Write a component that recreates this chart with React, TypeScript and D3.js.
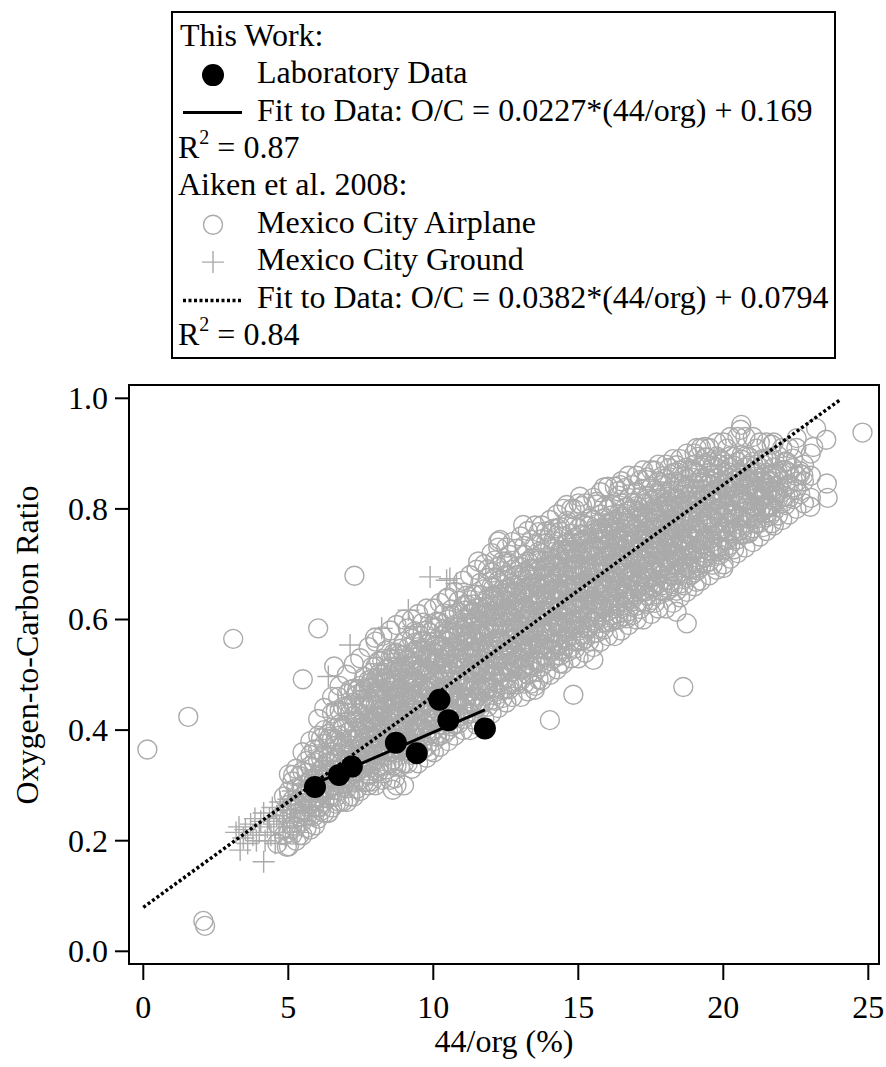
import React from 'react';
import * as d3 from 'd3';

// Aiken et al. 2008 - Mexico City Airplane, read column by column (x, list of O/C)
const airplaneColumns: [number, number[]][] = [
  [4.62, [0.195, 0.23]],
  [4.85, [0.21, 0.25, 0.28]],
  [5.02, [0.19, 0.215, 0.24, 0.265, 0.29, 0.32]],
  [5.27, [0.2, 0.225, 0.25, 0.27, 0.295, 0.33]],
  [5.49, [0.21, 0.235, 0.255, 0.28, 0.3, 0.325, 0.36]],
  [5.76, [0.22, 0.245, 0.265, 0.29, 0.31, 0.335, 0.355, 0.38]],
  [6.03, [0.24, 0.26, 0.28, 0.3, 0.32, 0.345, 0.365, 0.39, 0.42]],
  [6.24, [0.25, 0.27, 0.29, 0.31, 0.335, 0.355, 0.375, 0.4, 0.44]],
  [6.51, [0.26, 0.28, 0.3, 0.32, 0.34, 0.36, 0.385, 0.405, 0.43, 0.46]],
  [6.77, [0.27, 0.29, 0.31, 0.33, 0.35, 0.37, 0.39, 0.41, 0.435, 0.48]],
  [7.02, [0.27, 0.295, 0.315, 0.335, 0.355, 0.375, 0.395, 0.415, 0.44, 0.465, 0.5]],
  [7.26, [0.28, 0.305, 0.325, 0.345, 0.365, 0.385, 0.405, 0.425, 0.45, 0.475, 0.52]],
  [7.48, [0.29, 0.31, 0.33, 0.35, 0.37, 0.39, 0.41, 0.43, 0.455, 0.48, 0.53]],
  [7.77, [0.3, 0.32, 0.34, 0.36, 0.38, 0.4, 0.42, 0.44, 0.46, 0.49, 0.55]],
  [8.01, [0.3, 0.325, 0.345, 0.365, 0.385, 0.405, 0.425, 0.445, 0.465, 0.49, 0.515, 0.56]],
  [8.24, [0.31, 0.335, 0.355, 0.375, 0.395, 0.415, 0.435, 0.455, 0.475, 0.5, 0.525, 0.57]],
  [8.52, [0.31, 0.34, 0.36, 0.38, 0.4, 0.42, 0.44, 0.46, 0.48, 0.5, 0.53, 0.58]],
  [8.73, [0.3, 0.335, 0.36, 0.385, 0.405, 0.425, 0.445, 0.465, 0.485, 0.51, 0.54, 0.59]],
  [8.99, [0.3, 0.34, 0.37, 0.39, 0.41, 0.43, 0.45, 0.47, 0.49, 0.51, 0.535, 0.56, 0.6]],
  [9.26, [0.33, 0.355, 0.375, 0.395, 0.415, 0.435, 0.455, 0.475, 0.495, 0.515, 0.54, 0.565, 0.6]],
  [9.48, [0.34, 0.365, 0.385, 0.405, 0.425, 0.445, 0.465, 0.485, 0.505, 0.525, 0.55, 0.575, 0.61]],
  [9.77, [0.35, 0.37, 0.39, 0.41, 0.43, 0.45, 0.47, 0.49, 0.51, 0.53, 0.555, 0.58, 0.62]],
  [10.02, [0.36, 0.38, 0.4, 0.42, 0.44, 0.46, 0.48, 0.5, 0.52, 0.54, 0.56, 0.585, 0.62]],
  [10.23, [0.37, 0.39, 0.41, 0.43, 0.45, 0.47, 0.49, 0.51, 0.53, 0.55, 0.57, 0.595, 0.63]],
  [10.51, [0.38, 0.4, 0.42, 0.44, 0.46, 0.48, 0.5, 0.52, 0.54, 0.56, 0.58, 0.6, 0.64]],
  [10.74, [0.39, 0.41, 0.43, 0.45, 0.47, 0.49, 0.51, 0.53, 0.55, 0.57, 0.59, 0.61, 0.65]],
  [11.03, [0.4, 0.42, 0.44, 0.46, 0.48, 0.5, 0.52, 0.54, 0.56, 0.58, 0.6, 0.625, 0.67]],
  [11.27, [0.4, 0.43, 0.45, 0.47, 0.49, 0.51, 0.53, 0.55, 0.57, 0.59, 0.61, 0.635, 0.68]],
  [11.49, [0.41, 0.44, 0.46, 0.48, 0.5, 0.52, 0.54, 0.56, 0.58, 0.6, 0.62, 0.645, 0.69]],
  [11.76, [0.42, 0.45, 0.47, 0.49, 0.51, 0.53, 0.55, 0.57, 0.59, 0.61, 0.63, 0.655, 0.7]],
  [12.01, [0.43, 0.455, 0.475, 0.495, 0.515, 0.535, 0.555, 0.575, 0.595, 0.615, 0.635, 0.66, 0.685, 0.72]],
  [12.24, [0.44, 0.465, 0.485, 0.505, 0.525, 0.545, 0.565, 0.585, 0.605, 0.625, 0.645, 0.67, 0.695, 0.73]],
  [12.52, [0.45, 0.475, 0.495, 0.515, 0.535, 0.555, 0.575, 0.595, 0.615, 0.635, 0.655, 0.68, 0.705, 0.73]],
  [12.73, [0.46, 0.485, 0.505, 0.525, 0.545, 0.565, 0.585, 0.605, 0.625, 0.645, 0.665, 0.69, 0.74]],
  [13.02, [0.46, 0.49, 0.51, 0.53, 0.55, 0.57, 0.59, 0.61, 0.63, 0.65, 0.67, 0.695, 0.75]],
  [13.26, [0.47, 0.5, 0.52, 0.54, 0.56, 0.58, 0.6, 0.62, 0.64, 0.66, 0.68, 0.705, 0.76]],
  [13.51, [0.48, 0.505, 0.525, 0.545, 0.565, 0.585, 0.605, 0.625, 0.645, 0.665, 0.685, 0.71, 0.735, 0.77]],
  [13.74, [0.49, 0.515, 0.535, 0.555, 0.575, 0.595, 0.615, 0.635, 0.655, 0.675, 0.695, 0.72, 0.745, 0.77]],
  [14.03, [0.5, 0.525, 0.545, 0.565, 0.585, 0.605, 0.625, 0.645, 0.665, 0.685, 0.705, 0.73, 0.755, 0.78]],
  [14.27, [0.51, 0.535, 0.555, 0.575, 0.595, 0.615, 0.635, 0.655, 0.675, 0.695, 0.715, 0.74, 0.765, 0.79]],
  [14.48, [0.52, 0.545, 0.565, 0.585, 0.605, 0.625, 0.645, 0.665, 0.685, 0.705, 0.725, 0.75, 0.8]],
  [14.76, [0.53, 0.55, 0.57, 0.59, 0.61, 0.63, 0.65, 0.67, 0.69, 0.71, 0.73, 0.755, 0.8]],
  [15.01, [0.53, 0.56, 0.58, 0.6, 0.62, 0.64, 0.66, 0.68, 0.7, 0.72, 0.74, 0.765, 0.81]],
  [15.24, [0.54, 0.565, 0.585, 0.605, 0.625, 0.645, 0.665, 0.685, 0.705, 0.725, 0.745, 0.77, 0.81]],
  [15.52, [0.55, 0.575, 0.595, 0.615, 0.635, 0.655, 0.675, 0.695, 0.715, 0.735, 0.755, 0.78, 0.82]],
  [15.77, [0.56, 0.585, 0.605, 0.625, 0.645, 0.665, 0.685, 0.705, 0.725, 0.745, 0.765, 0.79, 0.83]],
  [16.02, [0.57, 0.595, 0.615, 0.635, 0.655, 0.675, 0.695, 0.715, 0.735, 0.755, 0.775, 0.8, 0.84]],
  [16.26, [0.57, 0.6, 0.62, 0.64, 0.66, 0.68, 0.7, 0.72, 0.74, 0.76, 0.78, 0.805, 0.84]],
  [16.49, [0.58, 0.605, 0.625, 0.645, 0.665, 0.685, 0.705, 0.725, 0.745, 0.765, 0.785, 0.81, 0.85]],
  [16.73, [0.59, 0.615, 0.635, 0.655, 0.675, 0.695, 0.715, 0.735, 0.755, 0.775, 0.795, 0.82, 0.86]],
  [17.01, [0.6, 0.625, 0.645, 0.665, 0.685, 0.705, 0.725, 0.745, 0.765, 0.785, 0.805, 0.83, 0.86]],
  [17.24, [0.6, 0.63, 0.65, 0.67, 0.69, 0.71, 0.73, 0.75, 0.77, 0.79, 0.81, 0.835, 0.87]],
  [17.52, [0.61, 0.635, 0.655, 0.675, 0.695, 0.715, 0.735, 0.755, 0.775, 0.795, 0.815, 0.84, 0.87]],
  [17.76, [0.62, 0.645, 0.665, 0.685, 0.705, 0.725, 0.745, 0.765, 0.785, 0.805, 0.825, 0.85, 0.88]],
  [18.02, [0.62, 0.65, 0.67, 0.69, 0.71, 0.73, 0.75, 0.77, 0.79, 0.81, 0.83, 0.855, 0.88]],
  [18.27, [0.63, 0.66, 0.68, 0.7, 0.72, 0.74, 0.76, 0.78, 0.8, 0.82, 0.84, 0.865, 0.89]],
  [18.51, [0.64, 0.665, 0.685, 0.705, 0.725, 0.745, 0.765, 0.785, 0.805, 0.825, 0.845, 0.87, 0.89]],
  [18.74, [0.65, 0.675, 0.695, 0.715, 0.735, 0.755, 0.775, 0.795, 0.815, 0.835, 0.855, 0.875, 0.9]],
  [19.01, [0.66, 0.685, 0.705, 0.725, 0.745, 0.765, 0.785, 0.805, 0.825, 0.845, 0.865, 0.88, 0.9]],
  [19.23, [0.67, 0.695, 0.715, 0.735, 0.755, 0.775, 0.795, 0.815, 0.835, 0.855, 0.875, 0.91]],
  [19.52, [0.68, 0.705, 0.725, 0.745, 0.765, 0.785, 0.805, 0.825, 0.845, 0.865, 0.885, 0.91]],
  [19.77, [0.69, 0.715, 0.735, 0.755, 0.775, 0.795, 0.815, 0.835, 0.855, 0.875, 0.895, 0.92]],
  [20.01, [0.7, 0.725, 0.745, 0.765, 0.785, 0.805, 0.825, 0.845, 0.865, 0.885, 0.92]],
  [20.24, [0.71, 0.735, 0.755, 0.775, 0.795, 0.815, 0.835, 0.855, 0.875, 0.895, 0.93]],
  [20.49, [0.72, 0.745, 0.765, 0.785, 0.805, 0.825, 0.845, 0.865, 0.885, 0.93]],
  [20.76, [0.73, 0.755, 0.775, 0.795, 0.815, 0.835, 0.855, 0.875, 0.895, 0.93]],
  [21.02, [0.74, 0.765, 0.785, 0.805, 0.825, 0.845, 0.865, 0.885, 0.93]],
  [21.26, [0.75, 0.775, 0.795, 0.815, 0.835, 0.855, 0.875, 0.92]],
  [21.49, [0.76, 0.785, 0.805, 0.825, 0.845, 0.865, 0.89, 0.92]],
  [21.74, [0.77, 0.795, 0.815, 0.835, 0.855, 0.875, 0.92]],
  [22.03, [0.78, 0.81, 0.83, 0.85, 0.87, 0.91]],
  [22.27, [0.79, 0.82, 0.845, 0.865, 0.91]],
  [22.52, [0.8, 0.835, 0.86, 0.91]],
  [22.78, [0.81, 0.85, 0.88]],
  [23.02, [0.82, 0.86, 0.9]],
];

// the dense middle of the airplane band, read between the columns above
const airplaneCore: [number, number[]][] = [
  [5.14, [0.211, 0.227, 0.263, 0.273, 0.307]],
  [5.38, [0.21, 0.244, 0.252, 0.286, 0.317]],
  [5.63, [0.223, 0.244, 0.275, 0.291, 0.323, 0.344]],
  [5.89, [0.244, 0.261, 0.272, 0.308, 0.313, 0.342, 0.365]],
  [6.13, [0.254, 0.262, 0.291, 0.317, 0.328, 0.349, 0.385]],
  [6.38, [0.251, 0.278, 0.294, 0.324, 0.341, 0.352, 0.383, 0.393]],
  [6.64, [0.267, 0.28, 0.309, 0.317, 0.346, 0.372, 0.383, 0.404, 0.435]],
  [6.89, [0.271, 0.298, 0.314, 0.344, 0.361, 0.372, 0.403, 0.408, 0.442]],
  [7.14, [0.28, 0.309, 0.317, 0.346, 0.372, 0.383, 0.399, 0.43, 0.446, 0.473]],
  [7.37, [0.294, 0.324, 0.341, 0.352, 0.383, 0.388, 0.417, 0.43, 0.464, 0.472]],
  [7.62, [0.306, 0.332, 0.343, 0.359, 0.39, 0.401, 0.428, 0.444, 0.474, 0.496]],
  [7.89, [0.307, 0.338, 0.343, 0.372, 0.385, 0.414, 0.422, 0.451, 0.477, 0.493, 0.514]],
  [8.13, [0.325, 0.336, 0.363, 0.379, 0.409, 0.426, 0.437, 0.468, 0.473, 0.502, 0.525]],
  [8.38, [0.329, 0.337, 0.366, 0.392, 0.403, 0.419, 0.45, 0.461, 0.488, 0.509, 0.544]],
  [8.62, [0.336, 0.347, 0.378, 0.383, 0.412, 0.425, 0.454, 0.462, 0.491, 0.522, 0.538]],
  [8.86, [0.334, 0.365, 0.376, 0.403, 0.419, 0.449, 0.466, 0.477, 0.508, 0.513, 0.547]],
  [9.12, [0.34, 0.369, 0.377, 0.406, 0.432, 0.443, 0.459, 0.49, 0.501, 0.528, 0.549, 0.584]],
  [9.37, [0.361, 0.372, 0.403, 0.408, 0.437, 0.45, 0.479, 0.487, 0.516, 0.542, 0.558, 0.579]],
  [9.63, [0.365, 0.376, 0.403, 0.419, 0.449, 0.466, 0.477, 0.508, 0.513, 0.542, 0.56, 0.594]],
  [9.88, [0.362, 0.391, 0.417, 0.428, 0.444, 0.475, 0.486, 0.513, 0.529, 0.559, 0.576, 0.592]],
  [10.12, [0.388, 0.393, 0.422, 0.435, 0.464, 0.472, 0.501, 0.527, 0.538, 0.554, 0.585, 0.596]],
  [10.37, [0.393, 0.409, 0.439, 0.456, 0.467, 0.498, 0.503, 0.532, 0.545, 0.574, 0.582, 0.611]],
  [10.63, [0.407, 0.418, 0.434, 0.465, 0.476, 0.503, 0.519, 0.549, 0.566, 0.577, 0.608, 0.618]],
  [10.88, [0.412, 0.425, 0.454, 0.462, 0.491, 0.517, 0.528, 0.544, 0.575, 0.586, 0.613, 0.634]],
  [11.14, [0.429, 0.446, 0.457, 0.488, 0.493, 0.522, 0.535, 0.564, 0.572, 0.601, 0.627, 0.643]],
  [11.38, [0.419, 0.45, 0.461, 0.488, 0.504, 0.534, 0.551, 0.562, 0.593, 0.598, 0.627, 0.645]],
  [11.62, [0.439, 0.447, 0.476, 0.502, 0.513, 0.529, 0.56, 0.571, 0.598, 0.614, 0.644, 0.666]],
  [11.88, [0.442, 0.473, 0.478, 0.507, 0.52, 0.549, 0.557, 0.586, 0.612, 0.623, 0.639, 0.675, 0.691]],
  [12.13, [0.453, 0.469, 0.499, 0.516, 0.527, 0.558, 0.563, 0.592, 0.605, 0.634, 0.642, 0.676, 0.707]],
  [12.38, [0.458, 0.474, 0.505, 0.516, 0.543, 0.559, 0.589, 0.606, 0.617, 0.648, 0.653, 0.687, 0.705]],
  [12.62, [0.474, 0.482, 0.511, 0.537, 0.548, 0.564, 0.595, 0.606, 0.633, 0.649, 0.679, 0.701, 0.717]],
  [12.88, [0.483, 0.488, 0.517, 0.53, 0.559, 0.567, 0.596, 0.622, 0.633, 0.649, 0.68, 0.696, 0.728]],
  [13.14, [0.484, 0.514, 0.531, 0.542, 0.573, 0.578, 0.607, 0.62, 0.649, 0.657, 0.686, 0.717, 0.733]],
  [13.38, [0.484, 0.515, 0.526, 0.553, 0.569, 0.599, 0.616, 0.627, 0.658, 0.663, 0.692, 0.71, 0.744]],
  [13.63, [0.492, 0.521, 0.547, 0.558, 0.574, 0.605, 0.616, 0.643, 0.659, 0.689, 0.706, 0.722, 0.758]],
  [13.88, [0.503, 0.532, 0.545, 0.574, 0.582, 0.611, 0.637, 0.648, 0.664, 0.695, 0.706, 0.738, 0.759]],
  [14.14, [0.529, 0.546, 0.557, 0.588, 0.593, 0.622, 0.635, 0.664, 0.672, 0.701, 0.727, 0.743, 0.764]],
  [14.38, [0.535, 0.546, 0.573, 0.589, 0.619, 0.636, 0.647, 0.678, 0.683, 0.712, 0.725, 0.759, 0.767]],
  [14.62, [0.541, 0.567, 0.578, 0.594, 0.625, 0.636, 0.663, 0.679, 0.709, 0.726, 0.737, 0.773, 0.778]],
  [14.88, [0.547, 0.56, 0.589, 0.597, 0.626, 0.652, 0.663, 0.679, 0.71, 0.721, 0.748, 0.769, 0.799]],
  [15.13, [0.561, 0.572, 0.603, 0.608, 0.637, 0.65, 0.679, 0.687, 0.716, 0.742, 0.753, 0.774, 0.805]],
  [15.38, [0.561, 0.588, 0.604, 0.634, 0.651, 0.662, 0.693, 0.698, 0.727, 0.74, 0.769, 0.782]],
  [15.64, [0.576, 0.602, 0.613, 0.629, 0.66, 0.671, 0.698, 0.714, 0.744, 0.761, 0.772, 0.808, 0.813]],
  [15.89, [0.582, 0.595, 0.624, 0.632, 0.661, 0.687, 0.698, 0.714, 0.745, 0.756, 0.783, 0.804, 0.839]],
  [16.14, [0.596, 0.607, 0.638, 0.643, 0.672, 0.685, 0.714, 0.722, 0.751, 0.777, 0.788, 0.809]],
  [16.38, [0.6, 0.611, 0.638, 0.654, 0.684, 0.701, 0.712, 0.743, 0.748, 0.777, 0.79, 0.824, 0.832]],
  [16.62, [0.606, 0.632, 0.643, 0.659, 0.69, 0.701, 0.728, 0.744, 0.774, 0.791, 0.802, 0.838]],
  [16.87, [0.608, 0.637, 0.65, 0.679, 0.687, 0.716, 0.742, 0.753, 0.769, 0.8, 0.811, 0.843]],
  [17.13, [0.619, 0.649, 0.666, 0.677, 0.708, 0.713, 0.742, 0.755, 0.784, 0.792, 0.821, 0.852]],
  [17.38, [0.628, 0.644, 0.675, 0.686, 0.713, 0.729, 0.759, 0.776, 0.787, 0.818, 0.823, 0.857]],
  [17.64, [0.63, 0.659, 0.667, 0.696, 0.722, 0.733, 0.749, 0.78, 0.791, 0.818, 0.834, 0.869]],
  [17.89, [0.651, 0.662, 0.693, 0.698, 0.727, 0.74, 0.769, 0.777, 0.806, 0.832, 0.843, 0.859]],
  [18.14, [0.655, 0.666, 0.693, 0.709, 0.739, 0.756, 0.767, 0.798, 0.803, 0.832, 0.845, 0.874]],
  [18.39, [0.652, 0.681, 0.707, 0.718, 0.734, 0.765, 0.776, 0.803, 0.819, 0.849, 0.866]],
  [18.63, [0.662, 0.693, 0.698, 0.727, 0.74, 0.769, 0.777, 0.806, 0.832, 0.843, 0.859]],
  [18.88, [0.68, 0.691, 0.718, 0.734, 0.764, 0.781, 0.792, 0.823, 0.828, 0.857, 0.87]],
  [19.12, [0.689, 0.697, 0.726, 0.752, 0.763, 0.779, 0.81, 0.821, 0.848, 0.864, 0.894]],
  [19.38, [0.701, 0.712, 0.743, 0.748, 0.777, 0.79, 0.819, 0.827, 0.856, 0.882, 0.893]],
  [19.63, [0.699, 0.73, 0.741, 0.768, 0.784, 0.814, 0.831, 0.842, 0.873, 0.878]],
  [19.88, [0.717, 0.73, 0.759, 0.767, 0.796, 0.822, 0.833, 0.849, 0.88, 0.891]],
  [20.13, [0.728, 0.744, 0.774, 0.791, 0.802, 0.833, 0.838, 0.867, 0.88, 0.909]],
  [20.37, [0.727, 0.756, 0.782, 0.793, 0.809, 0.84, 0.851, 0.878, 0.894]],
  [20.63, [0.754, 0.771, 0.782, 0.813, 0.818, 0.847, 0.86, 0.889, 0.897]],
  [20.88, [0.756, 0.782, 0.793, 0.809, 0.84, 0.851, 0.878, 0.894]],
  [21.14, [0.774, 0.791, 0.802, 0.833, 0.838, 0.867, 0.88, 0.909]],
  [21.38, [0.767, 0.796, 0.822, 0.833, 0.849, 0.88, 0.891]],
  [21.62, [0.788, 0.804, 0.834, 0.851, 0.862, 0.893]],
  [21.88, [0.788, 0.817, 0.83, 0.859, 0.867, 0.896]],
  [22.14, [0.807, 0.823, 0.839, 0.87, 0.886]],
  [22.4, [0.818, 0.839, 0.874, 0.891]],
  [22.65, [0.827, 0.863, 0.868]],
];

// innermost, solid-looking part of the band
const airplaneInner: [number, number[]][] = [
  [7.57, [0.336, 0.367, 0.379, 0.405, 0.412, 0.443, 0.469]],
  [7.82, [0.344, 0.372, 0.387, 0.416, 0.423, 0.451, 0.478, 0.485]],
  [8.07, [0.354, 0.368, 0.39, 0.401, 0.426, 0.457, 0.469, 0.495]],
  [8.32, [0.352, 0.383, 0.409, 0.414, 0.442, 0.457, 0.486, 0.493]],
  [8.57, [0.361, 0.388, 0.395, 0.424, 0.438, 0.46, 0.471, 0.496, 0.527]],
  [8.82, [0.369, 0.395, 0.402, 0.433, 0.459, 0.464, 0.492, 0.507, 0.536]],
  [9.07, [0.363, 0.391, 0.418, 0.425, 0.454, 0.468, 0.49, 0.501, 0.526]],
  [9.32, [0.387, 0.399, 0.425, 0.432, 0.463, 0.489, 0.494, 0.522, 0.537]],
  [9.57, [0.401, 0.408, 0.436, 0.463, 0.47, 0.499, 0.513, 0.535, 0.546]],
  [9.82, [0.401, 0.432, 0.444, 0.47, 0.477, 0.508, 0.534, 0.539]],
  [10.07, [0.412, 0.427, 0.456, 0.463, 0.491, 0.518, 0.525, 0.554]],
  [10.32, [0.418, 0.44, 0.451, 0.476, 0.507, 0.519, 0.545, 0.552]],
  [10.57, [0.433, 0.459, 0.464, 0.492, 0.507, 0.536, 0.543, 0.571]],
  [10.82, [0.448, 0.455, 0.484, 0.498, 0.52, 0.531, 0.556, 0.587]],
  [11.07, [0.449, 0.475, 0.482, 0.513, 0.539, 0.544, 0.572, 0.587, 0.616]],
  [11.32, [0.448, 0.476, 0.503, 0.51, 0.539, 0.553, 0.575, 0.586, 0.611]],
  [11.57, [0.472, 0.484, 0.51, 0.517, 0.548, 0.574, 0.579, 0.607, 0.622]],
  [11.82, [0.476, 0.483, 0.511, 0.538, 0.545, 0.574, 0.588, 0.61, 0.621]],
  [12.07, [0.476, 0.507, 0.519, 0.545, 0.552, 0.583, 0.609, 0.614, 0.642, 0.657]],
  [12.32, [0.496, 0.503, 0.531, 0.558, 0.565, 0.594, 0.608, 0.63, 0.641, 0.666]],
  [12.57, [0.507, 0.519, 0.545, 0.552, 0.583, 0.609, 0.614, 0.642, 0.657]],
  [12.82, [0.516, 0.523, 0.551, 0.578, 0.585, 0.614, 0.628, 0.65, 0.661]],
  [13.07, [0.511, 0.542, 0.554, 0.58, 0.587, 0.618, 0.644, 0.649, 0.677]],
  [13.32, [0.517, 0.546, 0.553, 0.581, 0.608, 0.615, 0.644, 0.658, 0.68, 0.691]],
  [13.57, [0.526, 0.557, 0.569, 0.595, 0.602, 0.633, 0.659, 0.664, 0.692, 0.707]],
  [13.82, [0.546, 0.553, 0.581, 0.608, 0.615, 0.644, 0.658, 0.68, 0.691]],
  [14.07, [0.546, 0.577, 0.589, 0.615, 0.622, 0.653, 0.679, 0.684, 0.712]],
  [14.32, [0.557, 0.586, 0.593, 0.621, 0.648, 0.655, 0.684, 0.698, 0.72]],
  [14.57, [0.561, 0.586, 0.617, 0.629, 0.655, 0.662, 0.693, 0.719, 0.724]],
  [14.82, [0.582, 0.597, 0.626, 0.633, 0.661, 0.688, 0.695, 0.724, 0.738]],
  [15.07, [0.585, 0.596, 0.621, 0.652, 0.664, 0.69, 0.697, 0.728, 0.754]],
  [15.32, [0.584, 0.612, 0.627, 0.656, 0.663, 0.691, 0.718, 0.725, 0.754]],
  [15.57, [0.598, 0.62, 0.631, 0.656, 0.687, 0.699, 0.725, 0.732, 0.763]],
  [15.82, [0.619, 0.624, 0.652, 0.667, 0.696, 0.703, 0.731, 0.758, 0.765]],
  [16.07, [0.624, 0.638, 0.66, 0.671, 0.696, 0.727, 0.739, 0.765, 0.772]],
  [16.32, [0.628, 0.654, 0.659, 0.687, 0.702, 0.731, 0.738, 0.766]],
  [16.57, [0.643, 0.65, 0.679, 0.693, 0.715, 0.726, 0.751, 0.782]],
  [16.82, [0.644, 0.67, 0.677, 0.708, 0.734, 0.739, 0.767, 0.782]],
  [17.07, [0.661, 0.668, 0.696, 0.723, 0.73, 0.759, 0.773, 0.795]],
  [17.32, [0.651, 0.676, 0.707, 0.719, 0.745, 0.752, 0.783, 0.809]],
  [17.57, [0.659, 0.687, 0.702, 0.731, 0.738, 0.766, 0.793, 0.8]],
  [17.82, [0.679, 0.693, 0.715, 0.726, 0.751, 0.782, 0.794, 0.82]],
  [18.07, [0.672, 0.703, 0.729, 0.734, 0.762, 0.777, 0.806, 0.813]],
  [18.32, [0.686, 0.713, 0.72, 0.749, 0.763, 0.785, 0.796, 0.821]],
  [18.57, [0.702, 0.714, 0.74, 0.747, 0.778, 0.804, 0.809]],
  [18.82, [0.702, 0.717, 0.746, 0.753, 0.781, 0.808, 0.815, 0.844]],
  [19.07, [0.708, 0.73, 0.741, 0.766, 0.797, 0.809, 0.835]],
  [19.32, [0.712, 0.743, 0.769, 0.774, 0.802, 0.817, 0.846]],
  [19.57, [0.723, 0.751, 0.778, 0.785, 0.814, 0.828, 0.85]],
  [19.82, [0.731, 0.756, 0.787, 0.799, 0.825, 0.832, 0.863]],
  [20.07, [0.759, 0.764, 0.792, 0.807, 0.836, 0.843]],
  [20.32, [0.761, 0.788, 0.795, 0.824, 0.838, 0.86]],
  [20.57, [0.761, 0.786, 0.817, 0.829, 0.855, 0.862]],
  [20.82, [0.783, 0.809, 0.814, 0.842, 0.857]],
  [21.07, [0.796, 0.803, 0.831, 0.858, 0.865]],
  [21.32, [0.804, 0.818, 0.84, 0.851]],
  [21.57, [0.806, 0.837, 0.849]],
  [21.82, [0.825, 0.832, 0.863]],
];

// single airplane points away from the main band
const airplaneExtra: [number, number][] = [
  [0.14, 0.365], [1.55, 0.424], [2.07, 0.055], [2.13, 0.046], [3.1, 0.565],
  [6.03, 0.584], [7.28, 0.679], [5.5, 0.492], [6.58, 0.515], [6.72, 0.46],
  [7.99, 0.567], [10.46, 0.638], [11.55, 0.705], [12.24, 0.741], [5.17, 0.319],
  [6.44, 0.388], [8.68, 0.313], [8.6, 0.292], [4.95, 0.189], [5.92, 0.228],
  [6.38, 0.25], [7.76, 0.307], [7.8, 0.318], [12.3, 0.744], [13.1, 0.771],
  [14.6, 0.807], [15.06, 0.822], [16.44, 0.843], [17.36, 0.852], [18.39, 0.879],
  [14.02, 0.418], [14.83, 0.464], [15.52, 0.527], [16.67, 0.602], [18.74, 0.593],
  [18.62, 0.478], [13.5, 0.473], [14.37, 0.521], [24.8, 0.938], [23.0, 0.804],
  [23.6, 0.82], [23.57, 0.846], [23.55, 0.925], [23.2, 0.946], [20.6, 0.943],
  [19.37, 0.912], [21.67, 0.916], [22.53, 0.928], [23.1, 0.912], [22.53, 0.849],
  [22.76, 0.861], [22.19, 0.885], [21.78, 0.825], [21.5, 0.792], [21.67, 0.774],
  [20.92, 0.759], [20.0, 0.693], [19.08, 0.668], [18.39, 0.614], [19.08, 0.91],
  [19.43, 0.893], [20.62, 0.952],
];

// Aiken et al. 2008 - Mexico City Ground
const groundPoints: [number, number][] = [
  [3.2, 0.215], [3.3, 0.225], [3.34, 0.183], [3.45, 0.205], [3.52, 0.22], [3.6, 0.195],
  [3.7, 0.23], [3.78, 0.21], [3.85, 0.24], [3.9, 0.2], [4.0, 0.215], [4.05, 0.235],
  [4.15, 0.162], [4.15, 0.25], [4.2, 0.2], [4.28, 0.225], [4.35, 0.24], [4.4, 0.21],
  [4.45, 0.26], [4.5, 0.23], [4.55, 0.195], [4.6, 0.245], [4.68, 0.215], [4.72, 0.27],
  [4.8, 0.235], [4.85, 0.255], [4.9, 0.205], [4.95, 0.24], [5.0, 0.275], [5.05, 0.225],
  [5.1, 0.255], [5.15, 0.29], [5.2, 0.24], [5.25, 0.265], [5.3, 0.215], [5.35, 0.28],
  [5.4, 0.25], [5.45, 0.3], [5.5, 0.265], [5.55, 0.235], [5.6, 0.285], [5.65, 0.31],
  [5.7, 0.255], [5.75, 0.275], [5.8, 0.3], [5.85, 0.245], [5.9, 0.32], [5.95, 0.27],
  [6.0, 0.29], [6.05, 0.31], [6.1, 0.26], [6.15, 0.335], [6.2, 0.28], [6.3, 0.3],
  [6.35, 0.32], [6.4, 0.275], [6.45, 0.345], [6.5, 0.295], [6.6, 0.315], [6.7, 0.33],
  [6.75, 0.29], [6.85, 0.355], [6.9, 0.31], [7.0, 0.335], [7.1, 0.3], [7.15, 0.37],
  [7.25, 0.32], [7.3, 0.35], [7.4, 0.29], [7.5, 0.38], [7.55, 0.31], [7.65, 0.36],
  [7.7, 0.4], [7.8, 0.33], [7.9, 0.42], [8.0, 0.35], [8.1, 0.305], [8.2, 0.39],
  [8.3, 0.44], [8.45, 0.47], [8.6, 0.37], [8.9, 0.5], [9.89, 0.677], [10.46, 0.671],
  [10.57, 0.674], [9.14, 0.617], [8.22, 0.584], [7.13, 0.554], [6.38, 0.497], [7.59, 0.491],
  [9.31, 0.587], [8.5, 0.545], [6.72, 0.448], [8.1, 0.503], [10.8, 0.665], [7.05, 0.43],
  [7.35, 0.46], [7.75, 0.47], [8.05, 0.52], [8.4, 0.5], [8.75, 0.53], [9.6, 0.56],
];

// This work - laboratory data
const labX = [5.92, 6.75, 7.19, 8.71, 9.43, 10.21, 10.52, 11.78];
const labY = [0.297, 0.319, 0.334, 0.377, 0.358, 0.455, 0.418, 0.403];

// fits quoted in the legend
const labFit = { slope: 0.0227, intercept: 0.169 };
const aikenFit = { slope: 0.0382, intercept: 0.0794, from: 0, to: 24 };

const xTicks = [0, 5, 10, 15, 20, 25];
const yTicks = [0, 0.2, 0.4, 0.6, 0.8, 1.0];

const legendRows = [
  'This Work:',
  'Laboratory Data',
  'Fit to Data: O/C = 0.0227*(44/org) + 0.169',
  '0.87',
  'Aiken et al. 2008:',
  'Mexico City Airplane',
  'Mexico City Ground',
  'Fit to Data: O/C = 0.0382*(44/org) + 0.0794',
  '0.84',
];

const SERIF = { fontFamily: "'Liberation Serif'" };
const GRAY = '#aaaaaa';

const App = () => {
  const x = d3.scaleLinear().domain([0, 25]).range([143.3, 868.3]);
  const y = d3.scaleLinear().domain([0, 1]).range([951.3, 398.3]);
  const frame = { left: 129, right: 879, top: 385, bottom: 964 };

  const columnsToPoints = (cols: [number, number[]][]) =>
    cols.flatMap(([cx, ys]) => ys.map((v) => [cx, v] as [number, number]));
  const airplane: [number, number][] = columnsToPoints(airplaneColumns)
    .concat(columnsToPoints(airplaneCore))
    .concat(columnsToPoints(airplaneInner))
    .concat(airplaneExtra);

  const labXmin = d3.min(labX) as number;
  const labXmax = d3.max(labX) as number;
  const labLine = d3.line<number>()
    .x((d) => x(d))
    .y((d) => y(labFit.slope * d + labFit.intercept))([labXmin, labXmax]);
  const aikenLine = d3.line<number>()
    .x((d) => x(d))
    .y((d) => y(aikenFit.slope * d + aikenFit.intercept))([aikenFit.from, aikenFit.to]);

  const plus = 'M-11,0H11M0,-11V11';
  const lg = { left: 172, top: 12, right: 835, bottom: 358, base: 45.7, step: 37.4 };
  const rowY = (i: number) => lg.base + i * lg.step;
  const fs = 32;

  return (
    <div style={{ position: 'absolute', left: 0, top: 0 }}>
      <svg width={886} height={1067} style={{ display: 'block' }}>
        <rect x={0} y={0} width={886} height={1067} fill="#fff" />

        {/* legend */}
        <rect x={lg.left} y={lg.top} width={lg.right - lg.left} height={lg.bottom - lg.top}
          fill="#fff" stroke="#000" strokeWidth={2} />
        <g fontSize={fs} fill="#000" style={SERIF}>
          <text x={180} y={rowY(0)} style={SERIF}>{legendRows[0]}</text>
          <circle cx={213} cy={rowY(1) - 8} r={11} fill="#000" />
          <text x={257} y={rowY(1)} style={SERIF}>{legendRows[1]}</text>
          <line x1={183} x2={242} y1={rowY(2) - 8} y2={rowY(2) - 8} stroke="#000" strokeWidth={3} />
          <text x={257} y={rowY(2)} style={SERIF}>{legendRows[2]}</text>
          <text x={178} y={rowY(3)} style={SERIF}>R<tspan fontSize={20} dy={-14}>2</tspan><tspan dy={14}>{' = ' + legendRows[3]}</tspan></text>
          <text x={178} y={rowY(4)} style={SERIF}>{legendRows[4]}</text>
          <circle cx={213} cy={rowY(5) - 8} r={9.5} fill="none" stroke={GRAY} strokeWidth={1.4} />
          <text x={257} y={rowY(5)} style={SERIF}>{legendRows[5]}</text>
          <path d={plus} transform={`translate(213,${rowY(6) - 8})`} stroke={GRAY} strokeWidth={1.4} />
          <text x={257} y={rowY(6)} style={SERIF}>{legendRows[6]}</text>
          <line x1={183} x2={242} y1={rowY(7) - 7} y2={rowY(7) - 7} stroke="#000" strokeWidth={3.5} strokeDasharray="3,2.5" />
          <text x={257} y={rowY(7)} style={SERIF}>{legendRows[7]}</text>
          <text x={178} y={rowY(8)} style={SERIF}>R<tspan fontSize={20} dy={-14}>2</tspan><tspan dy={14}>{' = ' + legendRows[8]}</tspan></text>
        </g>

        {/* data */}
        <g fill="none" stroke={GRAY} strokeWidth={1.4}>
          {airplane.map(([a, b], i) => (
            <circle key={i} cx={x(a)} cy={y(b)} r={9.5} />
          ))}
        </g>
        <g stroke={GRAY} strokeWidth={1.4}>
          {groundPoints.map(([a, b], i) => (
            <path key={i} d={plus} transform={`translate(${x(a)},${y(b)})`} />
          ))}
        </g>
        <path d={aikenLine || ''} fill="none" stroke="#000" strokeWidth={3.5} strokeDasharray="3,2.5" />
        <path d={labLine || ''} fill="none" stroke="#000" strokeWidth={3} />
        <g fill="#000">
          {labX.map((v, i) => (
            <circle key={i} cx={x(v)} cy={y(labY[i])} r={11} />
          ))}
        </g>

        {/* frame and axes */}
        <rect x={frame.left} y={frame.top} width={frame.right - frame.left} height={frame.bottom - frame.top}
          fill="none" stroke="#000" strokeWidth={2} />
        <g fontSize={fs} fill="#000" style={SERIF}>
          {yTicks.map((t) => (
            <g key={t}>
              <line x1={115} x2={frame.left} y1={y(t)} y2={y(t)} stroke="#000" strokeWidth={2} />
              <text x={108} y={y(t)} dy="0.34em" textAnchor="end" style={SERIF}>{d3.format('.1f')(t)}</text>
            </g>
          ))}
          {xTicks.map((t) => (
            <g key={t}>
              <line x1={x(t)} x2={x(t)} y1={frame.bottom} y2={980} stroke="#000" strokeWidth={2} />
              <text x={x(t)} y={1018} textAnchor="middle" style={SERIF}>{t}</text>
            </g>
          ))}
          <text x={504} y={1052} textAnchor="middle" style={SERIF}>44/org (%)</text>
          <text transform="translate(38,645) rotate(-90)" textAnchor="middle" style={SERIF}>Oxygen-to-Carbon Ratio</text>
        </g>
      </svg>
    </div>
  );
};

export default App;
